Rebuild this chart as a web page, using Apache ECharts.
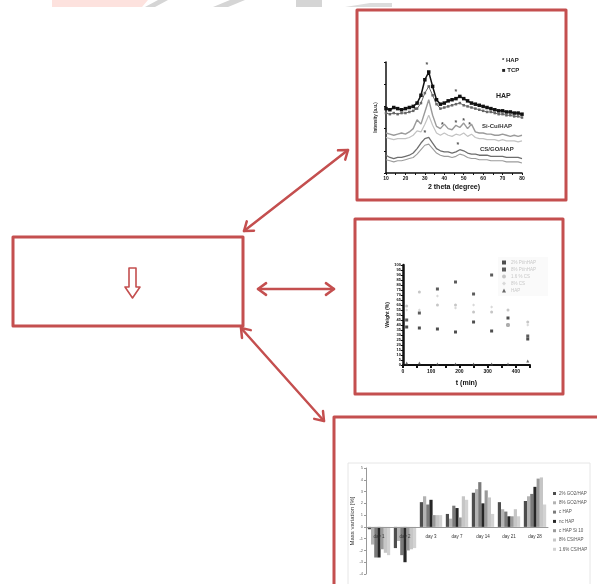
<!DOCTYPE html>
<html><head><meta charset="utf-8">
<script src="https://cdn.jsdelivr.net/npm/echarts@6/dist/echarts.min.js"></script>
<style>html,body{margin:0;padding:0;background:#fff}#c{width:597px;height:584px}</style>
</head><body><div id="c"></div><script>
// ---- XRD panel ----
const xrdAngles = [10,12,14,16,18,20,22,24,26,28,30,32,34,36,38,40,42,44,46,48,50,52,54,56,58,60,62,64,66,68,70,72,74,76,78,80];
const xrdTop  = [58,57,59,58,57,58,59,60,63,70,84,91,78,66,62,63,65,66,67,69,67,65,63,62,61,60,59,58,57,56,56,55,55,54,54,53];
const xrdTop2 = [54,53,54,53,54,54,55,56,58,63,72,78,70,62,58,59,60,61,62,63,61,60,59,58,57,56,55,55,54,53,53,52,52,51,51,50];
const xrdMid  = [36,35,34,35,36,35,37,40,48,44,55,66,52,42,40,44,40,39,43,41,45,40,44,37,36,36,35,35,34,34,35,34,33,34,33,34];
const xrdMid2 = [32,31,30,31,31,31,32,34,38,37,44,52,43,36,34,36,34,33,35,34,36,33,35,32,31,31,30,30,30,29,30,29,29,29,28,29];
const xrdBot  = [16,14,13,14,14,15,16,18,22,27,31,32,27,22,20,19,19,18,19,21,20,18,17,17,16,16,16,15,15,15,15,14,14,14,14,13];
const xrdBot2 = [12,11,10,11,11,12,13,14,17,21,25,26,22,18,16,15,15,14,15,17,16,14,13,13,12,12,12,11,11,11,11,10,10,10,10,9];
const xrdStarX = [31, 46, 25, 39, 46, 50, 53, 30, 47];
const xrdStarY = [97, 73, 57, 43, 45, 47, 43, 36, 25];
const xrdCurveLabels = ['HAP', 'Si-Cu/HAP', 'CS/GO/HAP'];

// ---- time panel ----
const tMin = [13, 58, 122, 186, 250, 314, 372, 442];
const scatterNames = ['2% Pt/nHAP', '8% Pt/nHAP', '1.6 % CS', '8% CS', 'HAP'];
const sc1 = [38, 37, 36, 33, 43, 34, 47, 26];
const sc2 = [45, 52, 76, 83, 71, 90, 40, 29];
const sc3 = [59, 73, 60, 60, 53, 53, 55, 43];
const sc4 = [55, 55, 69, 57, 60, 58, 40, 40];
const sc5 = [2, 2, 1, 1, 1, 1, 1, 4];

// ---- mass variation panel ----
const barDays = ['day 1','day 2','day 3','day 7','day 14','day 21','day 28'];
const barNames = ['2% GO2/HAP','8% GO2/HAP','c HAP','nc HAP','c HAP Si 10','8% CS/HAP','1.6% CS/HAP'];
const mass2GO   = [-0.2, -1.8, 2.1, 1.1, 2.9, 2.1, 2.2];
const mass8GO   = [-1.5, -1.2, 2.6, 0.7, 3.2, 1.5, 2.6];
const massCHAP  = [-2.6, -2.4, 1.9, 1.8, 3.8, 1.3, 2.8];
const massNcHAP = [-2.6, -3.0, 2.3, 1.6, 2.0, 0.9, 3.4];
const massCHAPSi= [-1.9, -2.0, 1.0, 0.8, 3.1, 0.9, 4.1];
const mass8CS   = [-2.2, -1.9, 1.0, 2.6, 2.5, 1.5, 4.2];
const mass16CS  = [-2.4, -1.8, 1.0, 2.3, 1.1, 0.9, 1.9];

const RED = '#c44f4f';
const zip = (xs, ys) => xs.map((x, i) => [x, ys[i]]);

function arrowEls(x1, y1, x2, y2) {
  const L = 10, th = Math.PI / 5;
  const els = [{type:'line', shape:{x1, y1, x2, y2}, style:{stroke:RED, lineWidth:2.5, lineCap:'round'}}];
  const head = (px, py, a) => ({type:'polyline', shape:{points:[
      [px - L*Math.cos(a - th), py - L*Math.sin(a - th)], [px, py],
      [px - L*Math.cos(a + th), py - L*Math.sin(a + th)]]},
    style:{stroke:RED, lineWidth:2.5, fill:null, lineJoin:'round', lineCap:'round'}});
  const a = Math.atan2(y2 - y1, x2 - x1);
  els.push(head(x2, y2, a));
  els.push(head(x1, y1, a + Math.PI));
  return els;
}
function box(x, y, w, h) {
  return {type:'rect', shape:{x, y, width:w, height:h},
    style:{stroke:RED, lineWidth:3, fill:null, lineJoin:'round'}};
}

const graphics = [
  // faint header remnants
  {type:'polygon', shape:{points:[[52,0],[148,0],[142,7],[52,7]]}, style:{fill:'#fde2de'}},
  {type:'polygon', shape:{points:[[145,7],[158,0],[168,0],[155,7]]}, style:{fill:'#d5d5d5'}},
  {type:'polygon', shape:{points:[[213,7],[230,0],[245,0],[228,7]]}, style:{fill:'#d5d5d5'}},
  {type:'polygon', shape:{points:[[296,0],[322,0],[322,7],[296,7]]}, style:{fill:'#d5d5d5'}},
  {type:'polygon', shape:{points:[[345,7],[370,3],[392,3],[392,7]]}, style:{fill:'#dcdcdc'}},
  // boxes
  box(357, 10, 209, 190),
  box(355, 219, 208, 175),
  box(334, 417, 275, 200),
  box(13, 237, 230, 89),
  // down arrow in left box
  {type:'polygon', shape:{points:[[129,268],[136,268],[136,287],[140,287],[132.5,298],[125,287],[129,287]]},
   style:{stroke:RED, lineWidth:1.6, fill:null, lineJoin:'round'}},
  ...arrowEls(244, 231, 348, 150),
  ...arrowEls(258, 289, 334, 289),
  ...arrowEls(241, 328, 324, 421),
  // XRD annotations
  {type:'text', x:502, y:57, style:{text:'* HAP', fontSize:6, fontWeight:'bold', fill:'#222', fontFamily:'Liberation Sans'}},
  {type:'text', x:502, y:67, style:{text:'\u25A0 TCP', fontSize:6, fontWeight:'bold', fill:'#222', fontFamily:'Liberation Sans'}},
  {type:'text', x:496, y:93, style:{text:xrdCurveLabels[0], fontSize:7, fontWeight:'bold', fill:'#222', fontFamily:'Liberation Sans'}},
  {type:'text', x:482, y:123, style:{text:xrdCurveLabels[1], fontSize:6, fontWeight:'bold', fill:'#333', fontFamily:'Liberation Sans'}},
  {type:'text', x:480, y:146, style:{text:xrdCurveLabels[2], fontSize:6, fontWeight:'bold', fill:'#333', fontFamily:'Liberation Sans'}},
  // mass chart frame
  {type:'rect', shape:{x:348, y:463, width:242, height:130}, style:{stroke:'#e6e6e6', lineWidth:1, fill:null}}
];

const barColors = ['#4d4d4d','#b3b3b3','#7a7a7a','#262626','#9a9a9a','#c6c6c6','#d2d2d2'];
const barData = [mass2GO, mass8GO, massCHAP, massNcHAP, massCHAPSi, mass8CS, mass16CS];
const scData = [sc1, sc2, sc3, sc4, sc5];
const scStyle = [
  {symbol:'rect', size:3, color:'#222'},
  {symbol:'rect', size:3, color:'#333'},
  {symbol:'circle', size:3, color:'#b8b8b8'},
  {symbol:'diamond', size:3, color:'#cfcfcf'},
  {symbol:'triangle', size:3, color:'#444'}
];

const F = 'Liberation Sans';
const option = {
  animation: false,
  textStyle: {fontFamily: F},
  graphic: graphics,
  grid: [
    {left:386, top:62, width:136, height:111},
    {left:403, top:265, width:127, height:100},
    {left:366, top:468, width:182, height:106}
  ],
  legend: [
    {data: barNames, left:548, top:486, orient:'vertical', icon:'rect', itemWidth:3, itemHeight:3, itemGap:4.3,
     selectedMode:false, textStyle:{fontSize:4.5, color:'#555', padding:[0,0,0,-2]}},
    {data: scatterNames, left:498, top:257, orient:'vertical', itemWidth:4, itemHeight:4, itemGap:2,
     selectedMode:false, backgroundColor:'#fafafa', padding:[3,12,3,4], textStyle:{fontSize:4.5, color:'#c8c8c8'}}
  ],
  xAxis: [
    {type:'value', gridIndex:0, min:10, max:80, interval:5,
     axisLine:{lineStyle:{color:'#111', width:1.5}}, axisTick:{length:2, lineStyle:{color:'#111'}},
     axisLabel:{fontSize:5, fontWeight:'bold', color:'#111', margin:3, formatter:v => v % 10 === 0 ? v : ''},
     splitLine:{show:false},
     name:'2 theta (degree)', nameLocation:'middle', nameGap:11,
     nameTextStyle:{fontSize:7, fontWeight:'bold', color:'#111'}},
    {type:'value', gridIndex:1, min:0, max:450, interval:50,
     axisLine:{lineStyle:{color:'#111', width:2}}, axisTick:{length:3, lineStyle:{color:'#111', width:2}},
     axisLabel:{fontSize:5, fontWeight:'bold', color:'#111', margin:4, formatter:v => v % 100 === 0 ? v : ''},
     splitLine:{show:false},
     name:'t (min)', nameLocation:'middle', nameGap:15,
     nameTextStyle:{fontSize:7, fontWeight:'bold', color:'#111'}},
    {type:'category', gridIndex:2, data:barDays, position:'bottom', offset:-47, z:5,
     axisLine:{onZero:false, lineStyle:{color:'#999'}}, axisTick:{show:false},
     axisLabel:{fontSize:4.5, color:'#333', margin:7}}
  ],
  yAxis: [
    {type:'value', gridIndex:0, min:0, max:100, interval:20,
     axisLine:{show:true, lineStyle:{color:'#111', width:1.5}}, axisTick:{show:true, length:2, lineStyle:{color:'#111'}},
     axisLabel:{show:false}, splitLine:{show:false},
     name:'Intensity (a.u.)', nameLocation:'middle', nameGap:8,
     nameTextStyle:{fontSize:4.5, fontWeight:'bold', color:'#333'}},
    {type:'value', gridIndex:1, min:0, max:100, interval:5,
     axisLine:{show:true, lineStyle:{color:'#111', width:2.5}}, axisTick:{show:true, length:2, lineStyle:{color:'#111'}},
     axisLabel:{fontSize:4, fontWeight:'bold', color:'#111', margin:2}, splitLine:{show:false},
     name:'Weight (%)', nameLocation:'middle', nameGap:13,
     nameTextStyle:{fontSize:5, fontWeight:'bold', color:'#222'}},
    {type:'value', gridIndex:2, min:-4, max:5, interval:1,
     axisLine:{show:true, lineStyle:{color:'#999'}}, axisTick:{show:true, length:2, lineStyle:{color:'#999'}},
     axisLabel:{fontSize:4, color:'#666', margin:3}, splitLine:{show:false},
     name:'Mass variation [%]', nameLocation:'middle', nameGap:9,
     nameTextStyle:{fontSize:6, color:'#333'}}
  ],
  series: [
    {name:'XRD HAP', type:'line', xAxisIndex:0, yAxisIndex:0, data:zip(xrdAngles, xrdTop),
     symbol:'rect', symbolSize:3.5, itemStyle:{color:'#111'}, lineStyle:{color:'#111', width:1.5}},
    {name:'XRD HAP b', type:'line', xAxisIndex:0, yAxisIndex:0, data:zip(xrdAngles, xrdTop2),
     symbol:'rect', symbolSize:2.5, itemStyle:{color:'#666'}, lineStyle:{color:'#666', width:1}},
    {name:'XRD mid', type:'line', xAxisIndex:0, yAxisIndex:0, data:zip(xrdAngles, xrdMid),
     showSymbol:false, lineStyle:{color:'#9a9a9a', width:1.4}},
    {name:'XRD mid b', type:'line', xAxisIndex:0, yAxisIndex:0, data:zip(xrdAngles, xrdMid2),
     showSymbol:false, lineStyle:{color:'#c2c2c2', width:1.2}},
    {name:'XRD bot', type:'line', xAxisIndex:0, yAxisIndex:0, data:zip(xrdAngles, xrdBot),
     showSymbol:false, lineStyle:{color:'#6e6e6e', width:1.3}},
    {name:'XRD bot b', type:'line', xAxisIndex:0, yAxisIndex:0, data:zip(xrdAngles, xrdBot2),
     showSymbol:false, lineStyle:{color:'#9c9c9c', width:1.1}},
    {name:'XRD peaks', type:'scatter', xAxisIndex:0, yAxisIndex:0, data:zip(xrdStarX, xrdStarY),
     symbolSize:0, label:{show:true, position:'inside', formatter:'*', fontSize:7, fontWeight:'bold', color:'#222'}},
    ...scData.map((d, i) => ({name:scatterNames[i], type:'scatter', xAxisIndex:1, yAxisIndex:1,
      data:zip(tMin, d), symbol:scStyle[i].symbol, symbolSize:scStyle[i].size, itemStyle:{color:scStyle[i].color}})),
    ...barData.map((d, i) => ({name:barNames[i], type:'bar', xAxisIndex:2, yAxisIndex:2, data:d,
      barGap:'0%', barCategoryGap:'14%', itemStyle:{color:barColors[i]}}))
  ]
};
const chart = echarts.init(document.getElementById('c'), null, {renderer:'canvas'});
chart.setOption(option);
</script></body></html>
